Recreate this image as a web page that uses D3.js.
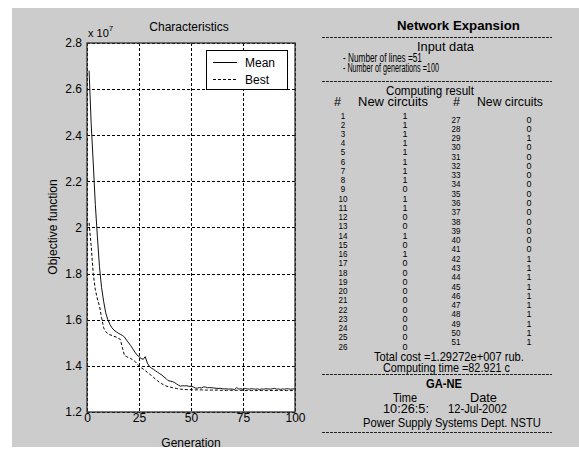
<!DOCTYPE html>
<html><head><meta charset="utf-8">
<script src="https://cdn.jsdelivr.net/npm/d3@7"></script>
<style>body{margin:0;background:#fff}svg{display:block}text{font-family:Arial,"Liberation Sans",sans-serif}</style>
</head><body>
<svg id="c" width="579" height="455"></svg>
<script>
const generations = d3.range(1, 101);
const meanValues = [2.68,2.45,2.28,2.10,1.96,1.83,1.74,1.68,1.63,1.60,
1.58,1.565,1.555,1.548,1.542,1.537,1.532,1.525,1.512,1.50,
1.488,1.474,1.46,1.448,1.44,1.432,1.428,1.44,1.412,1.398,
1.39,1.385,1.378,1.372,1.366,1.36,1.352,1.345,1.336,1.334,
1.332,1.328,1.322,1.316,1.312,1.314,1.313,1.314,1.311,1.312,
1.309,1.304,1.303,1.306,1.304,1.309,1.308,1.305,1.306,1.305,
1.304,1.303,1.302,1.303,1.301,1.300,1.301,1.299,1.300,1.299,
1.298,1.306,1.299,1.301,1.298,1.302,1.300,1.299,1.301,1.300,
1.299,1.300,1.298,1.300,1.299,1.301,1.300,1.299,1.300,1.303,
1.299,1.300,1.298,1.300,1.299,1.301,1.300,1.299,1.300,1.300];
const bestValues = [2.02,1.92,1.80,1.73,1.69,1.66,1.61,1.565,1.548,1.54,
1.535,1.532,1.528,1.525,1.52,1.515,1.48,1.445,1.44,1.436,
1.432,1.426,1.42,1.41,1.40,1.392,1.386,1.38,1.372,1.365,
1.358,1.35,1.342,1.335,1.328,1.322,1.317,1.313,1.31,1.308,
1.306,1.304,1.302,1.300,1.299,1.298,1.298,1.297,1.297,1.297,
1.296,1.296,1.296,1.296,1.296,1.295,1.295,1.295,1.295,1.295,
1.295,1.295,1.295,1.294,1.294,1.294,1.294,1.294,1.294,1.294,
1.294,1.294,1.294,1.294,1.294,1.293,1.293,1.293,1.293,1.293,
1.293,1.293,1.293,1.293,1.293,1.293,1.293,1.293,1.293,1.293,
1.293,1.293,1.293,1.293,1.293,1.293,1.293,1.293,1.293,1.293];
const xTicks = [0,25,50,75,100];
const yTicks = [1.2,1.4,1.6,1.8,2,2.2,2.4,2.6,2.8];
const lineIds = d3.range(1, 52);
const newCircuits = [1,1,1,1,1,1,1,1,0,1,1,0,0,1,0,1,0,0,0,0,0,0,0,0,0,0,
0,0,1,0,0,0,0,0,0,0,0,0,0,0,0,1,1,1,1,1,1,1,1,1,1];

const svg = d3.select("#c");
svg.append("rect").attr("x",12).attr("y",8).attr("width",567).attr("height",439).attr("fill","#cccccc");

const xs = d3.scaleLinear().domain([0,100]).range([87,295]);
const ys = d3.scaleLinear().domain([1.2,2.8]).range([412,43]);

svg.append("rect").attr("x",87).attr("y",43).attr("width",208).attr("height",369).attr("fill","#ffffff");

// grid (dashed) as paths
const gridG = svg.append("g").attr("class","grid");
xTicks.forEach(d=>{
  const px = Math.round(xs(d)) + 0.5;
  gridG.append("path").attr("d",`M${px},43V412`)
    .style("stroke","#000").style("stroke-width","1px").style("stroke-dasharray","3 2").style("fill","none");
});
yTicks.forEach(d=>{
  const py = Math.round(ys(d)) + 0.5;
  gridG.append("path").attr("d",`M87,${py}H295`)
    .style("stroke","#000").style("stroke-width","1px").style("stroke-dasharray","3 2").style("fill","none");
});

// tick labels
const ax = svg.append("g").attr("transform","translate(0,412)")
  .call(d3.axisBottom(xs).tickValues(xTicks).tickSize(0).tickPadding(1).tickFormat(d3.format("d")));
ax.select(".domain").remove();
ax.selectAll("text").attr("font-size",12).attr("fill","#000").attr("font-family","Arial,'Liberation Sans',sans-serif");
const ay = svg.append("g").attr("transform","translate(87,0)")
  .call(d3.axisLeft(ys).tickValues(yTicks).tickSize(0).tickPadding(5).tickFormat(d=>d3.format(".1f")(d).replace(/\.0$/,"")));
ay.select(".domain").remove();
ay.selectAll("text").attr("font-size",12).attr("fill","#000").attr("font-family","Arial,'Liberation Sans',sans-serif");

// lines
const mk = vals => d3.line().x((d,i)=>xs(generations[i])).y(d=>ys(d))(vals);
svg.append("path").attr("d",mk(bestValues)).attr("fill","none").attr("stroke","#000").attr("stroke-width",1).attr("stroke-dasharray","3,2");
svg.append("path").attr("d",mk(meanValues)).attr("fill","none").attr("stroke","#111").attr("stroke-width",1);

// border
svg.append("rect").attr("x",87).attr("y",43).attr("width",208).attr("height",369).attr("fill","none").attr("stroke","#333").attr("stroke-width",1.3);

// legend
svg.append("rect").attr("x",206.5).attr("y",50.5).attr("width",81).attr("height",39).attr("fill","#fff").attr("stroke","#000");
svg.append("line").attr("x1",213).attr("x2",237).attr("y1",62.5).attr("y2",62.5).attr("stroke","#000");
svg.append("line").attr("x1",213).attr("x2",237).attr("y1",79.5).attr("y2",79.5).attr("stroke","#000").attr("stroke-dasharray","3,2");
svg.append("text").attr("x",245).attr("y",67).attr("font-size",12).text("Mean");
svg.append("text").attr("x",245).attr("y",84).attr("font-size",12).text("Best");

// titles
svg.append("text").attr("x",189).attr("y",31).attr("text-anchor","middle").attr("font-size",12).text("Characteristics");
const sc = svg.append("text").attr("x",88).attr("y",37).attr("font-size",11);
sc.append("tspan").text("x 10");
sc.append("tspan").attr("dy",-6).attr("font-size",8).text("7");
svg.append("text").attr("x",191).attr("y",447).attr("text-anchor","middle").attr("font-size",12).text("Generation");
svg.append("text").attr("transform","translate(57,227) rotate(-90)").attr("text-anchor","middle").attr("font-size",12).text("Objective function");

// right panel: text squeezed horizontally to a measured width
function t(str, xx, yy, w, opts={}) {
  const g = svg.append("g");
  const el = g.append("text").attr("x",0).attr("y",0).attr("font-size",opts.size||12).text(str);
  if (opts.bold) el.attr("font-weight","bold");
  const nat = el.node().getComputedTextLength() || w;
  const s = w / nat;
  const left = opts.center ? xx - w/2 : xx;
  g.attr("transform",`translate(${left},${yy}) scale(${s},1)`);
  return el;
}
function dash(yy){ svg.append("line").attr("x1",322).attr("x2",552).attr("y1",yy).attr("y2",yy).attr("stroke","#222").attr("stroke-dasharray","3,1"); }
t("Network Expansion",397,30,123,{bold:true,size:13});
dash(37.5);
t("Input data",417,51,57);
t("- Number of lines =51",343,62,79,{size:13});
t("- Number of generations =100",343,72,96,{size:13});
dash(81.5);
t("Computing result",386,95,88);
t("#",334,106,7);
t("New circuits",358,106,70);
t("#",453,106,7);
t("New circuits",477,106,66);

const rowL = d3.scaleLinear().domain([0,25]).range([115,346]);
const rowR = d3.scaleLinear().domain([26,50]).range([119,341.7]);
lineIds.forEach((id,i)=>{
  const left = i < 26;
  const yy = left ? rowL(i) : rowR(i);
  t(String(id), left?343:456, yy+3.5, id>=10?9:4.5, {size:9.5, center:true});
  t(String(newCircuits[i]), left?405:529, yy+3.5, 5, {size:9.5, center:true});
});

t("Total cost =1.29272e+007 rub.",374,361,150);
t("Computing time =82.921 c",383,372,127);
dash(374.5);
t("GA-NE",426,388,36,{bold:true,size:13});
t("Time",393,402,24);
t("Date",470,402,27);
t("10:26:5:",383,413,46);
t("12-Jul-2002",448,413,59);
t("Power Supply Systems Dept.  NSTU",363,427,178);
dash(432.5);
</script>
</body></html>
